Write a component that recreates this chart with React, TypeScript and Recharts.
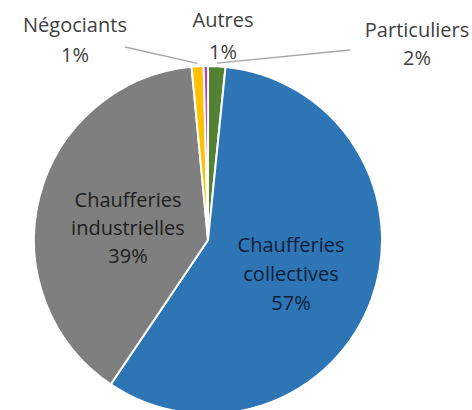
import React from 'react';
import { PieChart, Pie, Cell } from 'recharts';

const categories = ['Particuliers', 'Chaufferies collectives', 'Chaufferies industrielles', 'Négociants', 'Autres'];
const values = [1.6, 57.6, 38.9, 1.1, 0.4];
const percentLabels = ['2%', '57%', '39%', '1%', '1%'];
const colors = ['#548235', '#2E75B6', '#7F7F7F', '#FFC000', '#C33BC3'];

const data = categories.map((name, i) => ({ name, value: values[i], pct: percentLabels[i] }));

// label layout relative to pie centre
const labelLayout = [
  { dx: 209, dy: -203, gap: 28, leader: [142, -190], color: '#404040' },
  { dx: 83, dy: 12, gap: 29, leader: null, color: '#0F1E38' },
  { dx: -80, dy: -33, gap: 28, leader: null, color: '#1E1E1E' },
  { dx: -133, dy: -208, gap: 30, leader: [-83, -193], color: '#404040' },
  { dx: 15, dy: -213, gap: 32, leader: null, color: '#404040' },
];

const FONT = '"Open Sans", sans-serif';

const renderLabel = (props: any) => {
  const { cx, cy, midAngle, outerRadius, index } = props;
  const L = labelLayout[index];
  const words = categories[index].split(' ');
  const lines = [...words, percentLabels[index]];
  const x = cx + L.dx;
  const RAD = Math.PI / 180;
  let leader = null;
  if (L.leader) {
    const sx = cx + (outerRadius + 3) * Math.cos(-midAngle * RAD);
    const sy = cy + (outerRadius + 3) * Math.sin(-midAngle * RAD);
    leader = (
      <line x1={sx} y1={sy} x2={cx + L.leader[0]} y2={cy + L.leader[1]} stroke="#A6A6A6" strokeWidth={1.3} />
    );
  }
  return (
    <g key={`lbl-${index}`}>
      {leader}
      {lines.map((t, k) => (
        <text
          key={k}
          x={x}
          y={cy + L.dy + k * L.gap}
          textAnchor="middle"
          fill={L.color}
          fontFamily={FONT}
          fontSize={20}
        >
          {t}
        </text>
      ))}
    </g>
  );
};

export default function App() {
  return (
    <div style={{ position: 'absolute', left: 0, top: 0, width: 472, height: 410, background: '#fff' }}>
      <PieChart width={472} height={410} margin={{ top: 0, right: 0, bottom: 0, left: 0 }}>
        <Pie
          data={data}
          dataKey="value"
          nameKey="name"
          cx={208}
          cy={240}
          outerRadius={174}
          startAngle={90}
          endAngle={-270}
          stroke="#FFFFFF"
          strokeWidth={2}
          label={renderLabel}
          labelLine={false}
          isAnimationActive={false}
        >
          {data.map((d, i) => (
            <Cell key={d.name} fill={colors[i]} />
          ))}
        </Pie>
      </PieChart>
    </div>
  );
}
